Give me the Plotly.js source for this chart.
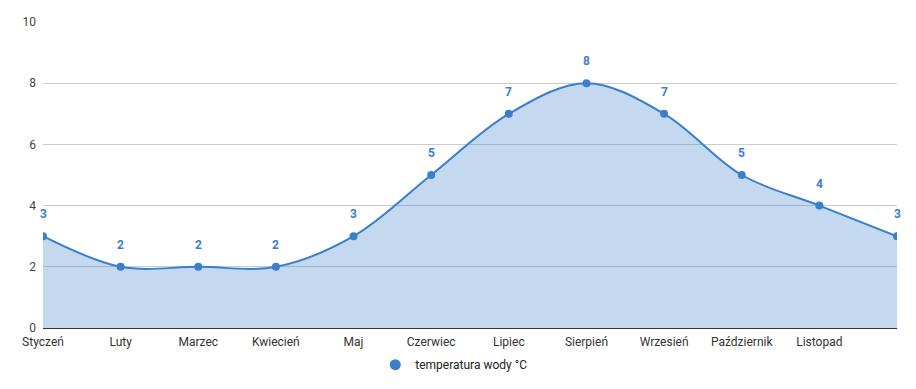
<!DOCTYPE html>
<html>
<head>
<meta charset="utf-8">
<script src="https://cdn.plot.ly/plotly-3.0.1.min.js"></script>
<style>html,body{margin:0;padding:0;background:#fff}#chart{width:916px;height:389px}</style>
</head>
<body>
<div id="chart"></div>
<script>
const months = ["Styczeń","Luty","Marzec","Kwiecień","Maj","Czerwiec","Lipiec","Sierpień","Wrzesień","Październik","Listopad","Grudzień"];
const tickLabels = ["Styczeń","Luty","Marzec","Kwiecień","Maj","Czerwiec","Lipiec","Sierpień","Wrzesień","Październik","Listopad",""];
const waterTemp = [3,2,2,2,3,5,7,8,7,5,4,3];
const seriesName = "temperatura wody °C";

const idx = months.map((m,i)=>i);
const lineColor = "#3b7ecb";

const trace = {
  x: idx, y: waterTemp, name: seriesName, type: "scatter",
  mode: "lines+markers", showlegend: false,
  line: {color: lineColor, width: 2, shape: "spline", smoothing: 1},
  marker: {color: lineColor, size: 8},
  fill: "tozeroy", fillcolor: "rgba(59,126,203,0.3)",
  text: months, hoverinfo: "text+y", cliponaxis: true
};
const legendTrace = {
  x: [null], y: [null], name: seriesName, type: "scatter", mode: "markers",
  marker: {color: lineColor, size: 11}, showlegend: true
};

const annotations = idx.map(i => ({
  x: i, y: waterTemp[i], xref: "x", yref: "y",
  text: "<b>" + waterTemp[i] + "</b>",
  showarrow: true, arrowhead: 0, arrowwidth: 1, arrowcolor: "rgba(255,255,255,0.9)",
  ax: 0, ay: -22, standoff: 4,
  font: {family: "Roboto, sans-serif", size: 12, color: lineColor}
}));

const layout = {
  width: 916, height: 389,
  margin: {l: 43, r: 19, t: 22, b: 61, autoexpand: false},
  paper_bgcolor: "#fff", plot_bgcolor: "#fff",
  font: {family: "Roboto, sans-serif", size: 12, color: "#444"},
  xaxis: {
    range: [0, 11], tickvals: idx, ticktext: tickLabels,
    showgrid: false, zeroline: false, showline: false, ticks: "",
    ticklabelstandoff: 5, automargin: false,
    tickfont: {size: 12, color: "#333"}, fixedrange: true
  },
  yaxis: {
    range: [0, 10], dtick: 2, tick0: 0,
    gridcolor: "#cccccc", gridwidth: 1,
    zeroline: true, zerolinecolor: "#333", zerolinewidth: 1,
    showline: false, ticks: "", ticklabelstandoff: 6, automargin: false,
    tickfont: {size: 12, color: "#444"}, fixedrange: true
  },
  showlegend: true,
  legend: {orientation: "h", x: 0.481, xanchor: "center", y: -0.12, yanchor: "middle",
    font: {size: 12, color: "#222"}},
  annotations: annotations
};

Plotly.newPlot("chart", [trace, legendTrace], layout, {displayModeBar: false, staticPlot: true});
</script>
</body>
</html>
